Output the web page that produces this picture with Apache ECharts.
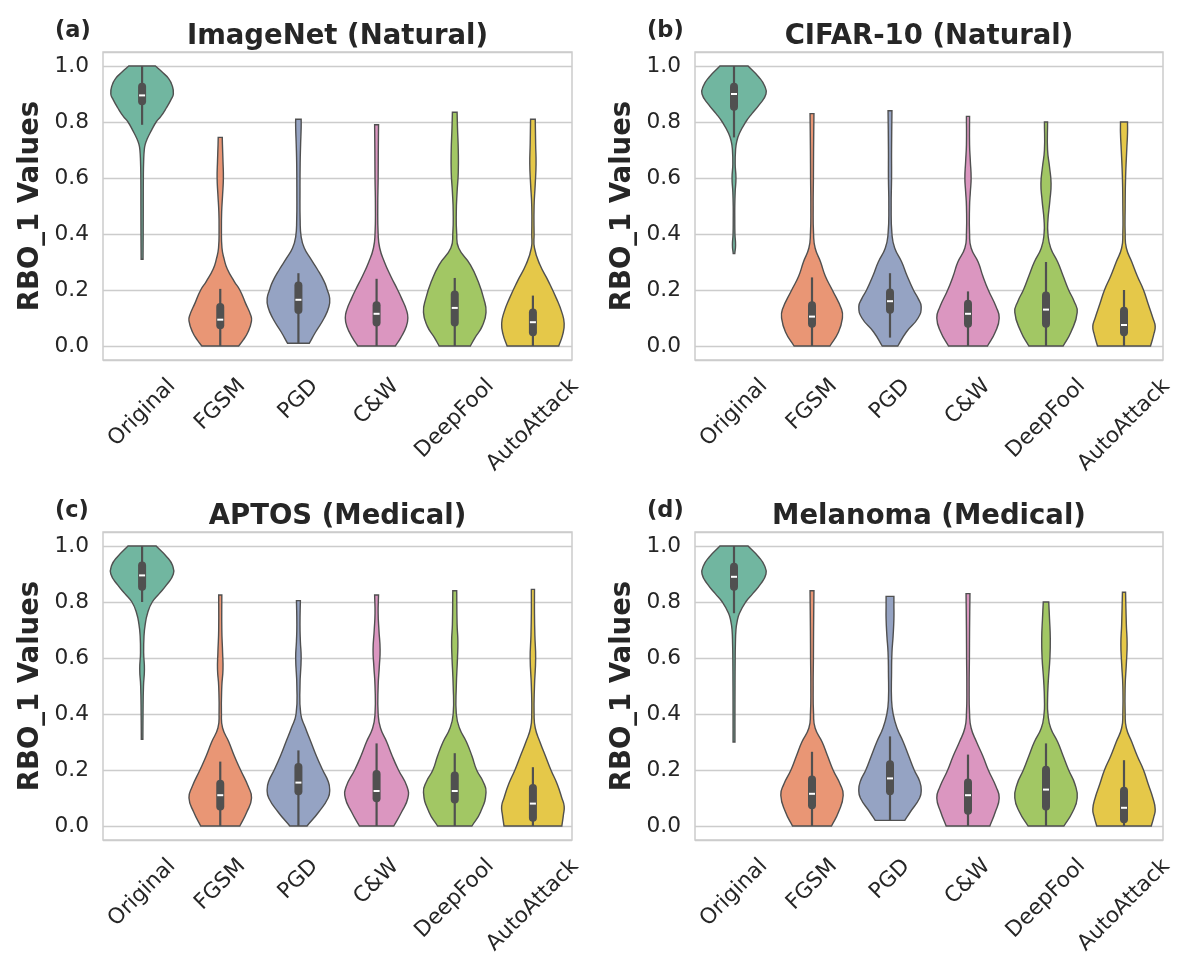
<!DOCTYPE html>
<html>
<head>
<meta charset="utf-8">
<script src="https://cdn.jsdelivr.net/npm/echarts@6.0.0/dist/echarts.min.js"></script>
<style>
  html, body { margin: 0; padding: 0; background: #fff; }
  #chart { width: 1200px; height: 977px; }
</style>
</head>
<body>
<div id="chart"></div>
<script>
const categories = ['Original', 'FGSM', 'PGD', 'C&W', 'DeepFool', 'AutoAttack'];
const panelTitles = ['ImageNet (Natural)', 'CIFAR-10 (Natural)', 'APTOS (Medical)', 'Melanoma (Medical)'];
const panelTags = ['(a)', '(b)', '(c)', '(d)'];
const yAxisTitle = 'RBO_1 Values';
const violinColors = ['#71b6a0', '#e99675', '#95a3c3', '#db96c0', '#a2c764', '#e5c849'];

// violin outline per category: [RBO value, half width as share of the category band], bottom to top
const imagenetShapes = [
  [[0.31, 0.012], [0.4, 0.014], [0.5, 0.015], [0.6, 0.016], [0.66, 0.02], [0.7, 0.028], [0.72, 0.04], [0.74, 0.066], [0.77, 0.12], [0.8, 0.18], [0.82, 0.24], [0.85, 0.31], [0.88, 0.37], [0.9, 0.40], [0.93, 0.385], [0.955, 0.34], [0.98, 0.25], [1.0, 0.17]],
  [[0, 0.235], [0.02, 0.29], [0.05, 0.355], [0.09, 0.40], [0.11, 0.39], [0.155, 0.32], [0.2, 0.25], [0.23, 0.18], [0.275, 0.09], [0.31, 0.05], [0.35, 0.022], [0.42, 0.015], [0.48, 0.018], [0.54, 0.03], [0.6, 0.04], [0.66, 0.035], [0.72, 0.028], [0.745, 0.026]],
  [[0.01, 0.14], [0.05, 0.22], [0.1, 0.33], [0.14, 0.39], [0.17, 0.40], [0.2, 0.37], [0.23, 0.33], [0.275, 0.24], [0.31, 0.16], [0.35, 0.075], [0.39, 0.035], [0.45, 0.022], [0.55, 0.02], [0.65, 0.022], [0.72, 0.028], [0.78, 0.035], [0.81, 0.035]],
  [[0, 0.24], [0.03, 0.31], [0.07, 0.38], [0.1, 0.40], [0.13, 0.38], [0.17, 0.32], [0.2, 0.27], [0.25, 0.18], [0.3, 0.1], [0.35, 0.04], [0.4, 0.02], [0.5, 0.015], [0.6, 0.02], [0.7, 0.022], [0.79, 0.025]],
  [[0, 0.2], [0.03, 0.26], [0.07, 0.35], [0.12, 0.40], [0.17, 0.37], [0.23, 0.30], [0.29, 0.2], [0.35, 0.05], [0.4, 0.025], [0.48, 0.02], [0.55, 0.03], [0.62, 0.045], [0.7, 0.045], [0.78, 0.035], [0.835, 0.03]],
  [[0, 0.33], [0.04, 0.38], [0.08, 0.40], [0.12, 0.37], [0.17, 0.30], [0.23, 0.20], [0.29, 0.09], [0.35, 0.02], [0.4, 0.015], [0.5, 0.015], [0.58, 0.03], [0.65, 0.04], [0.72, 0.035], [0.81, 0.03]]
];
const cifarShapes = [
  [[0.33, 0.01], [0.36, 0.02], [0.4, 0.012], [0.45, 0.01], [0.5, 0.01], [0.55, 0.015], [0.6, 0.025], [0.65, 0.015], [0.7, 0.02], [0.73, 0.035], [0.76, 0.07], [0.8, 0.15], [0.83, 0.23], [0.86, 0.32], [0.9, 0.41], [0.93, 0.39], [0.96, 0.32], [1.0, 0.18]],
  [[0, 0.23], [0.05, 0.34], [0.1, 0.39], [0.13, 0.38], [0.2, 0.26], [0.25, 0.17], [0.3, 0.11], [0.35, 0.04], [0.4, 0.02], [0.5, 0.015], [0.6, 0.018], [0.7, 0.02], [0.83, 0.025]],
  [[0, 0.1], [0.05, 0.21], [0.1, 0.36], [0.14, 0.40], [0.17, 0.36], [0.2, 0.30], [0.25, 0.22], [0.3, 0.15], [0.35, 0.06], [0.4, 0.025], [0.5, 0.015], [0.6, 0.02], [0.7, 0.02], [0.84, 0.025]],
  [[0, 0.25], [0.05, 0.35], [0.1, 0.40], [0.14, 0.36], [0.2, 0.26], [0.25, 0.19], [0.3, 0.13], [0.35, 0.04], [0.4, 0.02], [0.5, 0.02], [0.55, 0.03], [0.6, 0.04], [0.66, 0.03], [0.72, 0.02], [0.82, 0.02]],
  [[0, 0.22], [0.05, 0.32], [0.12, 0.40], [0.16, 0.36], [0.2, 0.29], [0.25, 0.22], [0.3, 0.15], [0.35, 0.06], [0.4, 0.025], [0.45, 0.025], [0.52, 0.05], [0.58, 0.065], [0.64, 0.045], [0.7, 0.02], [0.8, 0.02]],
  [[0, 0.34], [0.04, 0.38], [0.07, 0.40], [0.1, 0.37], [0.15, 0.31], [0.2, 0.25], [0.25, 0.17], [0.3, 0.1], [0.35, 0.03], [0.4, 0.015], [0.5, 0.015], [0.6, 0.02], [0.7, 0.035], [0.76, 0.045], [0.8, 0.045]]
];
const aptosShapes = [
  [[0.31, 0.01], [0.4, 0.012], [0.5, 0.018], [0.56, 0.03], [0.62, 0.02], [0.68, 0.025], [0.72, 0.04], [0.76, 0.07], [0.8, 0.13], [0.83, 0.22], [0.86, 0.31], [0.9, 0.40], [0.93, 0.39], [0.96, 0.32], [1.0, 0.18]],
  [[0, 0.25], [0.05, 0.34], [0.1, 0.40], [0.14, 0.36], [0.2, 0.26], [0.25, 0.18], [0.3, 0.11], [0.35, 0.03], [0.4, 0.015], [0.5, 0.02], [0.56, 0.035], [0.62, 0.03], [0.7, 0.02], [0.825, 0.02]],
  [[0, 0.11], [0.05, 0.26], [0.1, 0.38], [0.13, 0.40], [0.16, 0.38], [0.2, 0.31], [0.25, 0.23], [0.3, 0.16], [0.35, 0.09], [0.4, 0.03], [0.5, 0.02], [0.6, 0.035], [0.66, 0.025], [0.72, 0.02], [0.805, 0.025]],
  [[0, 0.22], [0.05, 0.32], [0.1, 0.40], [0.14, 0.39], [0.2, 0.28], [0.25, 0.2], [0.3, 0.13], [0.35, 0.05], [0.4, 0.02], [0.5, 0.02], [0.57, 0.035], [0.63, 0.045], [0.7, 0.03], [0.76, 0.02], [0.825, 0.025]],
  [[0, 0.22], [0.05, 0.33], [0.12, 0.40], [0.16, 0.36], [0.2, 0.28], [0.25, 0.22], [0.3, 0.15], [0.35, 0.06], [0.4, 0.02], [0.5, 0.02], [0.6, 0.035], [0.66, 0.04], [0.72, 0.03], [0.84, 0.025]],
  [[0, 0.37], [0.04, 0.39], [0.07, 0.40], [0.1, 0.37], [0.15, 0.31], [0.2, 0.23], [0.25, 0.16], [0.3, 0.09], [0.35, 0.03], [0.4, 0.015], [0.5, 0.02], [0.6, 0.035], [0.68, 0.025], [0.76, 0.02], [0.845, 0.02]]
];
const melanomaShapes = [
  [[0.3, 0.012], [0.4, 0.012], [0.5, 0.013], [0.6, 0.015], [0.65, 0.018], [0.7, 0.025], [0.73, 0.04], [0.76, 0.07], [0.8, 0.15], [0.83, 0.24], [0.86, 0.33], [0.9, 0.41], [0.93, 0.39], [0.96, 0.32], [1.0, 0.18]],
  [[0, 0.25], [0.05, 0.34], [0.11, 0.40], [0.15, 0.36], [0.2, 0.27], [0.25, 0.2], [0.3, 0.13], [0.35, 0.04], [0.4, 0.02], [0.5, 0.015], [0.6, 0.018], [0.7, 0.02], [0.84, 0.025]],
  [[0.02, 0.19], [0.05, 0.26], [0.1, 0.38], [0.13, 0.40], [0.16, 0.38], [0.2, 0.31], [0.25, 0.24], [0.3, 0.17], [0.35, 0.09], [0.4, 0.04], [0.45, 0.02], [0.55, 0.02], [0.62, 0.025], [0.68, 0.04], [0.74, 0.05], [0.79, 0.05], [0.82, 0.05]],
  [[0, 0.28], [0.05, 0.35], [0.1, 0.40], [0.14, 0.36], [0.2, 0.26], [0.25, 0.19], [0.3, 0.11], [0.35, 0.04], [0.4, 0.02], [0.5, 0.015], [0.6, 0.018], [0.7, 0.02], [0.83, 0.025]],
  [[0, 0.23], [0.05, 0.34], [0.1, 0.40], [0.15, 0.37], [0.2, 0.29], [0.25, 0.22], [0.3, 0.15], [0.35, 0.06], [0.4, 0.025], [0.45, 0.02], [0.52, 0.03], [0.6, 0.05], [0.67, 0.055], [0.74, 0.045], [0.8, 0.035]],
  [[0, 0.35], [0.03, 0.38], [0.06, 0.40], [0.1, 0.37], [0.15, 0.31], [0.2, 0.25], [0.25, 0.17], [0.3, 0.1], [0.35, 0.03], [0.4, 0.015], [0.5, 0.015], [0.58, 0.03], [0.65, 0.04], [0.72, 0.03], [0.835, 0.02]]
];

// inner box per category: [whisker low, q1, median, q3, whisker high]
const imagenetBoxes = [[0.79, 0.86, 0.895, 0.94, 1.0], [0, 0.06, 0.094, 0.154, 0.204], [0.01, 0.114, 0.165, 0.23, 0.26], [0, 0.07, 0.115, 0.16, 0.24], [0, 0.07, 0.136, 0.198, 0.243], [0, 0.035, 0.085, 0.134, 0.18]];
const cifarBoxes = [[0.745, 0.84, 0.9, 0.94, 1.0], [0, 0.065, 0.105, 0.16, 0.245], [0.03, 0.115, 0.16, 0.205, 0.26], [0, 0.065, 0.115, 0.165, 0.195], [0, 0.065, 0.13, 0.195, 0.3], [0, 0.035, 0.075, 0.14, 0.2]];
const aptosBoxes = [[0.8, 0.84, 0.895, 0.945, 1.0], [0, 0.055, 0.11, 0.165, 0.23], [0, 0.11, 0.155, 0.225, 0.27], [0, 0.085, 0.125, 0.2, 0.295], [0, 0.08, 0.125, 0.195, 0.26], [0, 0.015, 0.08, 0.15, 0.21]];
const melanomaBoxes = [[0.76, 0.84, 0.89, 0.94, 1.0], [0, 0.06, 0.115, 0.18, 0.265], [0.02, 0.11, 0.17, 0.235, 0.32], [0, 0.04, 0.11, 0.17, 0.255], [0, 0.055, 0.13, 0.215, 0.295], [0, 0.01, 0.065, 0.14, 0.235]];

const panelShapes = [imagenetShapes, cifarShapes, aptosShapes, melanomaShapes];
const panelBoxes = [imagenetBoxes, cifarBoxes, aptosBoxes, melanomaBoxes];

const FONT = '"DejaVu Sans", "Noto Sans", sans-serif';
const TEXT = '#262626';
const EDGE = '#505050';
const TICK_SIZE = 21.7;
const Y_MIN = -0.05;

const grids = [
  { left: 103, top: 52, width: 469, height: 308 },
  { left: 695, top: 52, width: 468, height: 308 },
  { left: 103, top: 532, width: 469, height: 308 },
  { left: 695, top: 532, width: 468, height: 308 }
];

const ctx = document.createElement('canvas').getContext('2d');
ctx.font = TICK_SIZE + 'px ' + FONT;
const labelWidths = categories.map(c => ctx.measureText(c).width);

function violinRenderer(shapes, boxes) {
  return function (params, api) {
    const i = params.dataIndex;
    const band = api.size([1, 0])[0];
    const cx = api.coord([i, 0])[0];
    const left = [], right = [];
    shapes[i].forEach(([v, w]) => {
      const y = api.coord([i, v])[1];
      left.push([cx - w * band, y]);
      right.unshift([cx + w * band, y]);
    });
    // doubled end points keep the flat cut ends square when smoothed
    const pts = [left[0], ...left, left[left.length - 1], right[0], ...right, right[right.length - 1]];
    const [lo, q1, med, q3, hi] = boxes[i].map(v => api.coord([i, v])[1]);
    const cap = 4;
    // tick label rotated 45deg, its bounding box centred under the tick (matplotlib style)
    const axisBottom = api.coord([i, Y_MIN])[1];
    const lh = 25;
    const lx = cx + 0.707 * (labelWidths[i] - lh) / 2;
    return {
      type: 'group',
      children: [
        {
          type: 'polygon',
          shape: { points: pts, smooth: 0.5 },
          style: { fill: violinColors[i], stroke: EDGE, lineWidth: 1.4 }
        },
        {
          type: 'line',
          shape: { x1: cx, y1: lo, x2: cx, y2: hi },
          style: { stroke: EDGE, lineWidth: 2.2 }
        },
        {
          type: 'line',
          shape: { x1: cx, y1: q1 - cap, x2: cx, y2: q3 + cap },
          style: { stroke: EDGE, lineWidth: 8, lineCap: 'round' }
        },
        {
          type: 'line',
          shape: { x1: cx - 3, y1: med, x2: cx + 3, y2: med },
          style: { stroke: '#ffffff', lineWidth: 2 }
        },
        {
          type: 'text',
          x: lx,
          y: axisBottom + 14,
          rotation: Math.PI / 4,
          style: {
            text: categories[i],
            align: 'right',
            verticalAlign: 'top',
            fontFamily: FONT,
            fontSize: TICK_SIZE,
            lineHeight: lh,
            fill: TEXT
          }
        }
      ]
    };
  };
}

const chart = echarts.init(document.getElementById('chart'), null, { renderer: 'canvas' });

const option = {
  backgroundColor: '#ffffff',
  animation: false,
  title: [],
  grid: [],
  xAxis: [],
  yAxis: [],
  series: []
};

grids.forEach((g, k) => {
  option.grid.push(Object.assign({
    show: true,
    borderColor: '#cccccc',
    borderWidth: 1.5,
    backgroundColor: '#ffffff',
    containLabel: false,
    outerBoundsMode: 'none'
  }, g));
  option.title.push({
    text: panelTitles[k],
    left: g.left + g.width / 2,
    top: g.top - 29,
    textAlign: 'center',
    padding: 0,
    textStyle: { fontFamily: FONT, fontSize: 27.5, fontWeight: 'bold', color: TEXT }
  });
  option.title.push({
    text: panelTags[k],
    left: g.left - 48,
    top: g.top - 32,
    padding: 0,
    textStyle: { fontFamily: FONT, fontSize: 22.5, fontWeight: 'bold', color: TEXT }
  });
  option.xAxis.push({
    type: 'category',
    gridIndex: k,
    data: categories,
    axisLine: { show: false },
    axisTick: { show: false },
    splitLine: { show: false },
    axisLabel: { show: false }
  });
  option.yAxis.push({
    type: 'value',
    gridIndex: k,
    min: Y_MIN,
    max: 1.05,
    minInterval: 0.2,
    maxInterval: 0.2,
    name: yAxisTitle,
    nameLocation: 'middle',
    nameGap: 58,
    nameTextStyle: { fontFamily: FONT, fontSize: 27.5, fontWeight: 'bold', color: TEXT },
    axisLine: { show: false },
    axisTick: { show: false },
    splitLine: { show: true, lineStyle: { color: '#cccccc', width: 1.3 } },
    axisLabel: {
      showMinLabel: false,
      showMaxLabel: false,
      margin: 14,
      fontFamily: FONT,
      fontSize: TICK_SIZE,
      color: TEXT,
      formatter: v => v.toFixed(1)
    }
  });
  option.series.push({
    type: 'custom',
    xAxisIndex: k,
    yAxisIndex: k,
    renderItem: violinRenderer(panelShapes[k], panelBoxes[k]),
    data: panelBoxes[k].map((b, i) => [i, b[2]]),
    encode: { x: 0, y: 1 },
    clip: false
  });
});

chart.setOption(option);
</script>
</body>
</html>
